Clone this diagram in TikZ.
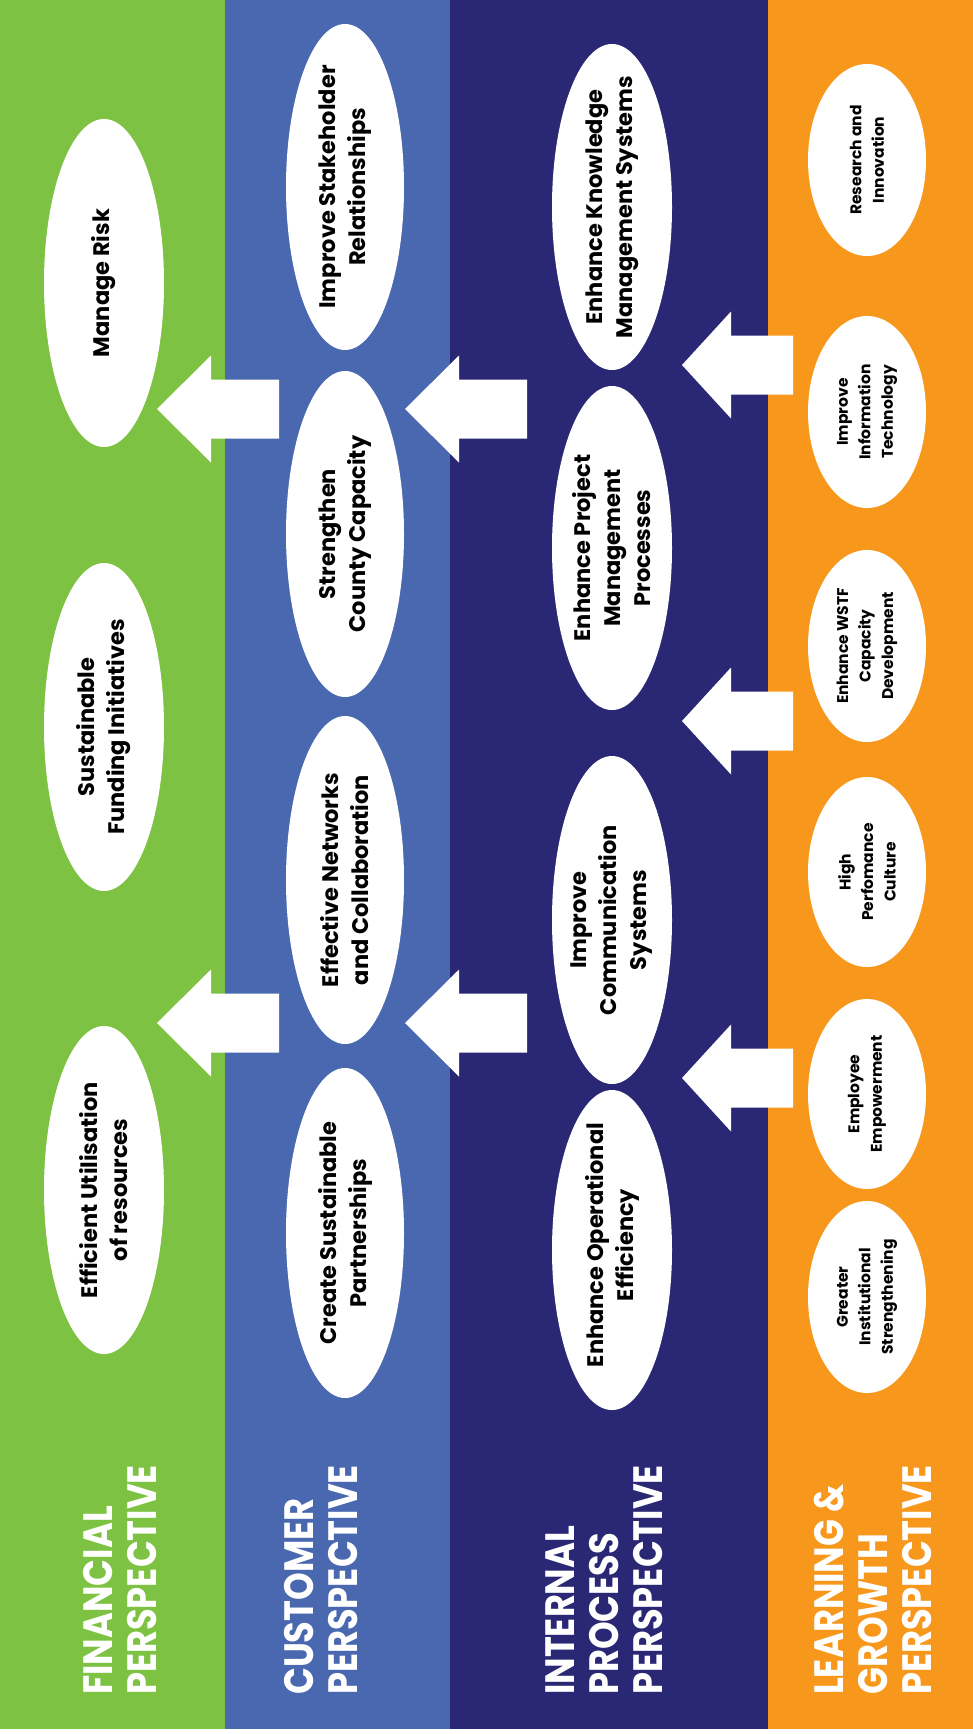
\documentclass[tikz,border=0pt]{standalone}
\usepackage{fontspec}
\setmainfont{Poppins}
\newfontfamily\titlefont[FakeStretch=0.86]{Poppins}

\definecolor{fingreen}{HTML}{7DC242}
\definecolor{custblue}{HTML}{4A68B0}
\definecolor{procnavy}{HTML}{2A2874}
\definecolor{learnorange}{HTML}{F7981D}

\begin{document}
\begin{tikzpicture}[x=1pt,y=-1pt,
     persp/.style={text=white,font=\titlefont\bfseries\fontsize{41}{44}\selectfont,
       align=left,rotate=90,anchor=north west,inner sep=0pt},
     goal/.style={fill=white},
     goaltext/.style={text=black,font=\bfseries\fontsize{22.5}{30}\selectfont,
       align=center,rotate=90,inner sep=0pt},
     smalltext/.style={goaltext,font=\bfseries\fontsize{15.5}{22.5}\selectfont},
     blockarrow/.style={fill=white}
   ]
   \path[use as bounding box] (0,0) rectangle (973,1734);
   % Perspective bands.
   \fill[fingreen] (0,0) rectangle (225,1729);
   \fill[custblue] (225,0) rectangle (450,1729);
   \fill[procnavy] (450,0) rectangle (768,1729);
   \fill[learnorange] (768,0) rectangle (973,1729);
   \node[persp] (financial) at (83,1695) {FINANCIAL\\PERSPECTIVE};
   \node[persp] (customer) at (284,1695) {CUSTOMER\\PERSPECTIVE};
   \node[persp] (internal) at (546,1695) {INTERNAL\\PROCESS\\PERSPECTIVE};
   \node[persp] (learning) at (814,1695) {LEARNING \&\\GROWTH\\PERSPECTIVE};
   % Financial objectives.
   \fill[goal] (104,283) ellipse [x radius=60,y radius=164];
   \node[goaltext] (risk) at (104,283) {Manage Risk};
   \fill[goal] (104,727) ellipse [x radius=60,y radius=164];
   \node[goaltext] (funding) at (104,727) {Sustainable\\Funding Initiatives};
   \fill[goal] (104,1190) ellipse [x radius=60,y radius=164];
   \node[goaltext] (utilisation) at (104,1190) {Efficient Utilisation\\of resources};
   % Customer objectives.
   \fill[goal] (345,187) ellipse [x radius=59,y radius=163];
   \node[goaltext] (stakeholder) at (345,187) {Improve Stakeholder\\Relationships};
   \fill[goal] (345,534) ellipse [x radius=59,y radius=163];
   \node[goaltext] (county) at (345,534) {Strengthen\\County Capacity};
   \fill[goal] (345,880) ellipse [x radius=59,y radius=164];
   \node[goaltext] (networks) at (345,880) {Effective Networks\\and Collaboration};
   \fill[goal] (345,1233) ellipse [x radius=59,y radius=165];
   \node[goaltext] (partnerships) at (345,1233) {Create Sustainable\\Partnerships};
   % Internal process objectives.
   \fill[goal] (612,207) ellipse [x radius=60,y radius=163];
   \node[goaltext] (knowledge) at (612,207) {Enhance Knowledge\\Management Systems};
   \fill[goal] (612,548) ellipse [x radius=60,y radius=162];
   \node[goaltext] (project) at (612,548) {Enhance Project\\Management\\Processes};
   \fill[goal] (612,920) ellipse [x radius=60,y radius=164];
   \node[goaltext] (communication) at (612,920) {Improve\\Communication\\Systems};
   \fill[goal] (612,1250) ellipse [x radius=60,y radius=160];
   \node[goaltext] (operational) at (612,1245) {Enhance Operational\\Efficiency};
   % Learning and growth objectives.
   \fill[goal] (867,160) ellipse [x radius=59,y radius=96];
   \node[smalltext] (research) at (867,160) {Research and\\Innovation};
   \fill[goal] (867,412) ellipse [x radius=59,y radius=96];
   \node[smalltext] (infotech) at (867,412) {Improve\\Information\\Technology};
   \fill[goal] (867,646) ellipse [x radius=59,y radius=96];
   \node[smalltext] (wstf) at (867,646) {Enhance WSTF\\Capacity\\Development};
   \fill[goal] (867,872) ellipse [x radius=59,y radius=95];
   \node[smalltext] (culture) at (867,872) {High\\Perfomance\\Culture};
   \fill[goal] (867,1094) ellipse [x radius=59,y radius=95];
   \node[smalltext] (empowerment) at (867,1094) {Employee\\Empowerment};
   \fill[goal] (867,1297) ellipse [x radius=59,y radius=96];
   \node[smalltext] (institutional) at (867,1297) {Greater\\Institutional\\Strengthening};
   % Arrows.
   \fill[blockarrow] (157,409) -- ++(54,-53.5) -- ++(0,24) -- ++(68,0) -- ++(0,59) -- ++(-68,0) -- ++(0,24) -- cycle;
   \fill[blockarrow] (405,409) -- ++(54,-53.5) -- ++(0,24) -- ++(68,0) -- ++(0,59) -- ++(-68,0) -- ++(0,24) -- cycle;
   \fill[blockarrow] (157,1023) -- ++(54,-53.5) -- ++(0,24) -- ++(68,0) -- ++(0,59) -- ++(-68,0) -- ++(0,24) -- cycle;
   \fill[blockarrow] (405,1023) -- ++(54,-53.5) -- ++(0,24) -- ++(68,0) -- ++(0,59) -- ++(-68,0) -- ++(0,24) -- cycle;
   \fill[blockarrow] (682,365) -- ++(49,-53.5) -- ++(0,24) -- ++(62,0) -- ++(0,59) -- ++(-62,0) -- ++(0,24) -- cycle;
   \fill[blockarrow] (682,721) -- ++(49,-53.5) -- ++(0,24) -- ++(62,0) -- ++(0,59) -- ++(-62,0) -- ++(0,24) -- cycle;
   \fill[blockarrow] (682,1078) -- ++(49,-53.5) -- ++(0,24) -- ++(62,0) -- ++(0,59) -- ++(-62,0) -- ++(0,24) -- cycle;
 \end{tikzpicture}
\end{document}
